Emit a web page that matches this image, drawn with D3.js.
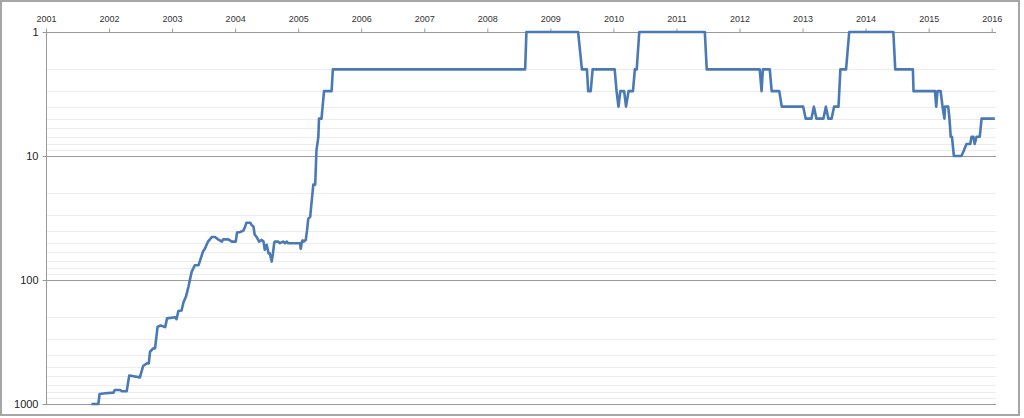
<!DOCTYPE html>
<html><head><meta charset="utf-8">
<script src="https://cdn.jsdelivr.net/npm/d3@7"></script>
<style>html,body{margin:0;padding:0;background:#fff;}svg{display:block;}</style>
</head><body>
<svg id="chart" width="1024" height="418"></svg>
<script>
const years = [2001,2002,2003,2004,2005,2006,2007,2008,2009,2010,2011,2012,2013,2014,2015,2016];
const rankTicks = [1,10,100,1000];
const dates = [2001.72,2001.83,2001.85,2001.94,2002.07,2002.09,2002.17,2002.21,2002.28,2002.32,2002.49,2002.54,2002.60,2002.63,2002.65,2002.70,2002.73,2002.77,2002.82,2002.89,2002.92,2003.05,2003.07,2003.10,2003.15,2003.18,2003.22,2003.26,2003.31,2003.36,2003.42,2003.49,2003.52,2003.57,2003.63,2003.68,2003.73,2003.79,2003.81,2003.89,2003.95,2004.01,2004.03,2004.08,2004.13,2004.16,2004.18,2004.24,2004.26,2004.29,2004.31,2004.34,2004.38,2004.42,2004.45,2004.47,2004.50,2004.53,2004.55,2004.58,2004.60,2004.62,2004.63,2004.68,2004.71,2004.76,2004.79,2004.82,2004.84,2005.03,2005.04,2005.06,2005.07,2005.09,2005.12,2005.14,2005.16,2005.19,2005.24,2005.27,2005.29,2005.32,2005.33,2005.37,2005.41,2005.53,2005.55,2008.60,2008.62,2009.44,2009.50,2009.58,2009.60,2009.64,2009.67,2010.02,2010.05,2010.08,2010.11,2010.17,2010.20,2010.24,2010.31,2010.34,2010.37,2010.41,2011.45,2011.48,2012.32,2012.35,2012.37,2012.48,2012.51,2012.63,2012.67,2013.01,2013.05,2013.14,2013.18,2013.22,2013.33,2013.37,2013.41,2013.46,2013.50,2013.57,2013.60,2013.69,2013.74,2014.44,2014.47,2014.75,2014.76,2015.10,2015.12,2015.14,2015.19,2015.22,2015.25,2015.26,2015.31,2015.33,2015.35,2015.37,2015.40,2015.52,2015.56,2015.60,2015.66,2015.68,2015.71,2015.73,2015.76,2015.81,2015.84,2016.05];
const ranks = [1000,1000,830,820,810,770,770,790,790,590,610,494,470,470,379,356,356,238,233,240,204,200,207,178,176,152,136,113,86,76,76,59,56,49,45,45,47,49,47,47,49,49,41.5,41,40,37,34.5,34.5,36,37,43,45,49,47.5,49,57,52,61,61,71,61,50,49,49,50.5,49,50.5,49,50.5,50.5,56,49,48,49,47.5,40,32,31,17,17,9,7,5,5,3,3,2,2,1,1,2,2,3,3,2,2,3,4,3,3,4,3,3,2,2,1,1,2,2,3,2,2,3,3,4,4,5,5,4,5,5,4,5,5,4,4,2,2,1,1,2,2,3,3,4,3,3,4,5,4,4,5,7,7,10,10,9,8,8,7,7,8,7,7,5,5];

const svg = d3.select("#chart");
const x = d3.scaleLinear().domain([2001, 2016]).range([46, 991.7]);
const y = d3.scaleLog().domain([1, 1000]).range([32, 404]);
const plotRight = 996;

// outer frame
svg.append("rect").attr("x",1).attr("y",1).attr("width",1018).attr("height",414)
  .attr("fill","none").attr("stroke","#a6a6a6").attr("stroke-width",2);

// minor gridlines
const minor = [];
for (let d = 1; d < 1000; d *= 10) for (let k = 2; k <= 9; k++) minor.push(d*k);
svg.append("g").selectAll("line").data(minor).join("line")
  .attr("x1",47).attr("x2",plotRight)
  .attr("y1",d=>Math.round(y(d))+0.5).attr("y2",d=>Math.round(y(d))+0.5)
  .attr("stroke","#ececec").attr("stroke-width",1);

// major gridlines
svg.append("g").selectAll("line").data(rankTicks.slice(1)).join("line")
  .attr("x1",46).attr("x2",plotRight)
  .attr("y1",d=>Math.round(y(d))+0.5).attr("y2",d=>Math.round(y(d))+0.5)
  .attr("stroke","#9a9a9a").attr("stroke-width",1);

// y axis
const yAxis = d3.axisLeft(y).tickValues(rankTicks).tickFormat(d3.format("d")).tickSize(4).tickPadding(4);
const gy = svg.append("g").attr("transform","translate(46.5,0)").call(yAxis);
gy.select(".domain").attr("stroke","#999").attr("d","M0,32V404");
gy.selectAll(".tick line").attr("stroke","#999");
gy.selectAll(".tick text").attr("font-family","Liberation Sans, Arial, sans-serif").attr("font-size",11).attr("fill","#222");

// x axis at top
const xAxis = d3.axisTop(x).tickValues(years).tickFormat(d3.format("d")).tickSize(4).tickPadding(7);
const gx = svg.append("g").attr("transform","translate(0,32.5)").call(xAxis);
gx.select(".domain").attr("stroke","#999").attr("d","M46,0H996");
gx.selectAll(".tick line").attr("stroke","#999");
gx.selectAll(".tick text").attr("font-family","Liberation Sans, Arial, sans-serif").attr("font-size",9).attr("fill","#333");

// line
const pts = dates.map((d,i)=>[d, ranks[i]]);
svg.append("path").datum(pts)
  .attr("fill","none").attr("stroke","#4a7ab5").attr("stroke-width",2.6)
  .attr("stroke-linejoin","round")
  .attr("d", d3.line().x(d=>x(d[0])).y(d=>y(d[1])));
</script>
</body></html>
